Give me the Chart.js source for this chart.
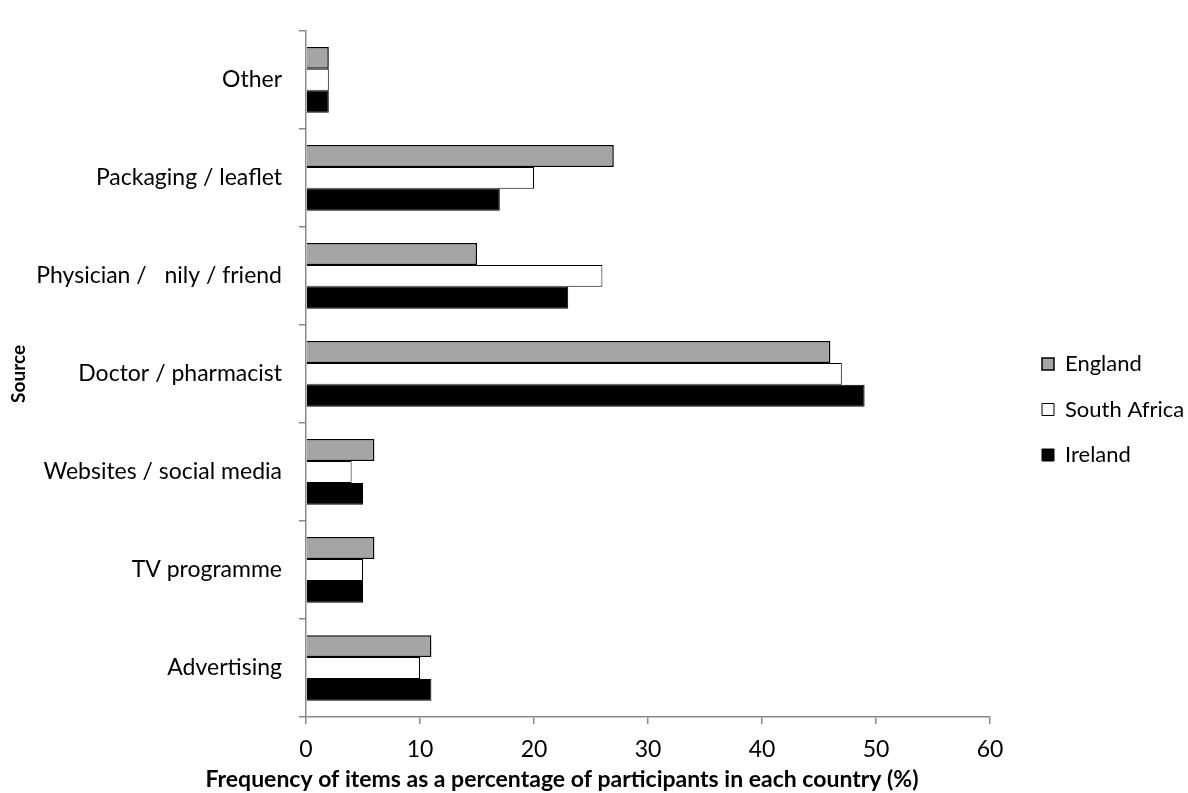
<!DOCTYPE html>
<html>
<head>
<meta charset="utf-8">
<script src="https://cdn.jsdelivr.net/npm/chart.js@4.4.1/dist/chart.umd.min.js"></script>
<style>
html,body{margin:0;padding:0;background:#fff;}
#wrap{width:1188px;height:793px;position:relative;}
</style>
</head>
<body>
<div id="wrap"><canvas id="c"></canvas></div>
<script>
const categories = ["Other", "Packaging / leaflet", "Physician /   nily / friend", "Doctor / pharmacist", "Websites / social media", "TV programme", "Advertising"];
const seriesNames = ["England", "South Africa", "Ireland"];
const england = [2, 27, 15, 46, 6, 6, 11];
const southAfrica = [2, 20, 26, 47, 4, 5, 10];
const ireland = [2, 17, 23, 49, 5, 5, 11];
const xTicks = [0, 10, 20, 30, 40, 50, 60];
const xTitle = "Frequency of items as a percentage of participants in each country (%)";
const yTitle = "Source";

const FONT = "Lato, 'Open Sans', sans-serif";
Chart.defaults.font.family = FONT;
Chart.defaults.color = '#000';

const W = 1188, H = 793;
const PLOT_LEFT = 306, PLOT_RIGHT = 990, PLOT_TOP = 14, PLOT_BOTTOM = 717;
const LEG_FONT = 22, LEG_PAD = 23.5, LEG_BOX = 12, LEG_BOX_X = 1042, LEG_DY = 6;
const AXIS_GREY = '#898989';

// measure legend width so the plot area ends where it should
const mctx = document.createElement('canvas').getContext('2d');
mctx.font = LEG_FONT + 'px ' + FONT;
const maxTW = Math.max(...seriesNames.map(t => mctx.measureText(t).width));
const legendW = LEG_PAD + LEG_BOX + LEG_FONT / 2 + maxTW + 10;
const padRight = Math.max(0, W - PLOT_RIGHT - legendW);

const placeLegend = {
  id: 'placeLegend',
  afterLayout(chart) {
    const L = chart.legend;
    if (!L) return;
    const w = L.width;
    L.left = LEG_BOX_X - LEG_PAD;
    L.right = L.left + w;
    L.top += LEG_DY;
    L.bottom += LEG_DY;
  }
};

const xTitlePlugin = {
  id: 'xTitlePlugin',
  afterDraw(chart) {
    const ctx = chart.ctx;
    ctx.save();
    ctx.font = 'bold 23px ' + FONT;
    ctx.fillStyle = '#000';
    ctx.textAlign = 'center';
    ctx.textBaseline = 'alphabetic';
    ctx.fillText(xTitle, 562, 787);
    ctx.restore();
  }
};

new Chart(document.getElementById('c'), {
  type: 'bar',
  data: {
    labels: categories,
    datasets: [
      {label: seriesNames[0], data: england, backgroundColor: '#a5a5a5', borderColor: '#000', borderWidth: 1.5, borderSkipped: 'start'},
      {label: seriesNames[1], data: southAfrica, backgroundColor: '#ffffff', borderColor: '#000', borderWidth: 1, borderSkipped: 'start'},
      {label: seriesNames[2], data: ireland, backgroundColor: '#000000', borderColor: '#000', borderWidth: 1, borderSkipped: 'start'}
    ]
  },
  plugins: [placeLegend, xTitlePlugin],
  options: {
    indexAxis: 'y',
    responsive: true,
    maintainAspectRatio: false,
    animation: false,
    devicePixelRatio: 1,
    datasets: {bar: {categoryPercentage: 0.67, barPercentage: 1.0}},
    layout: {padding: {top: PLOT_TOP, right: padRight, bottom: 0, left: 0}},
    plugins: {
      legend: {
        position: 'right',
        labels: {boxWidth: LEG_BOX, boxHeight: LEG_BOX, padding: LEG_PAD, font: {size: LEG_FONT}, color: '#000'}
      },
      tooltip: {enabled: false}
    },
    scales: {
      x: {
        type: 'linear',
        min: 0, max: 60,
        afterBuildTicks: (s) => { s.ticks = xTicks.map(v => ({value: v})); },
        afterFit: (s) => { s.height = H - PLOT_BOTTOM; },
        ticks: {font: {size: 23}, color: '#000', padding: 12},
        grid: {display: true, drawOnChartArea: false, drawTicks: true, tickLength: 7, color: AXIS_GREY, lineWidth: 1.5},
        border: {display: true, color: AXIS_GREY, width: 1.5}
      },
      y: {
        type: 'category',
        afterFit: (s) => { s.width = PLOT_LEFT; },
        ticks: {font: {size: 23}, color: '#000', padding: 17},
        grid: {display: true, offset: true, drawOnChartArea: false, drawTicks: true, tickLength: 7, color: AXIS_GREY, lineWidth: 1.5},
        border: {display: true, color: AXIS_GREY, width: 1.5},
        title: {display: true, text: yTitle, font: {size: 19, weight: 'bold'}, color: '#000', padding: {top: 7, bottom: 0}}
      }
    }
  }
});
</script>
</body>
</html>
